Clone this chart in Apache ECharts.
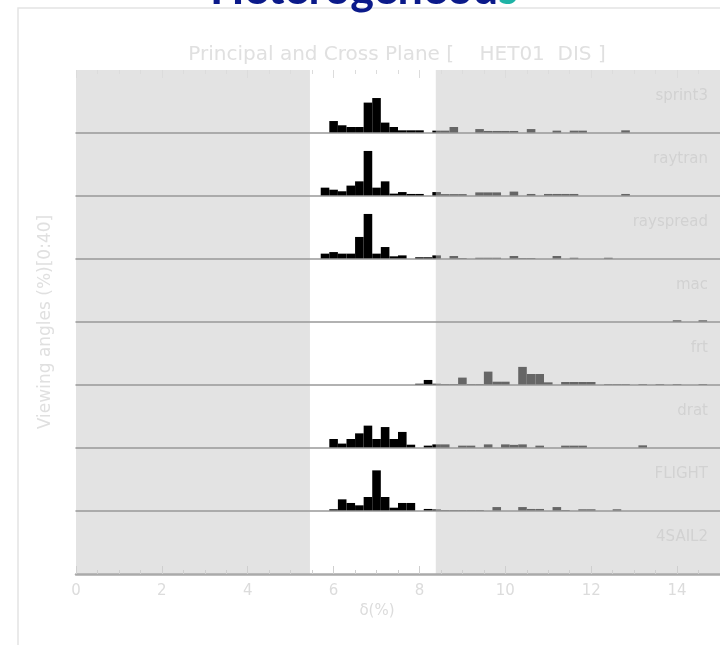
<!DOCTYPE html>
<html>
<head>
<meta charset="utf-8">
<script src="https://cdn.jsdelivr.net/npm/echarts@6/dist/echarts.min.js"></script>
<style>
	html, body { margin: 0; padding: 0; background: #fff; }
	#chart { width: 720px; height: 645px; }
</style>
</head>
<body>
<div id="chart"></div>
<script>
// panel names, top to bottom
const panels = ['sprint3', 'raytran', 'rayspread', 'mac', 'frt', 'drat', 'FLIGHT', '4SAIL2']

// histogram bins per panel: [bin centre δ(%), share of viewing angles (%)]
const sprint3 = [[6.0, 7.6], [6.2, 4.9], [6.4, 3.8], [6.6, 3.8], [6.8, 19.3], [7.0, 22.2], [7.2, 6.6], [7.4, 3.8], [7.6, 1.7], [7.8, 1.7], [8.0, 1.7], [8.4, 1.5], [8.6, 1.5], [8.8, 3.8], [9.4, 2.5], [9.6, 1.3], [9.8, 1.3], [10.0, 1.3], [10.2, 1.3], [10.6, 2.5], [11.2, 1.5], [11.6, 1.5], [11.8, 1.5], [12.8, 1.7]]
const raytran = [[5.8, 5.3], [6.0, 4.0], [6.2, 3.0], [6.4, 6.6], [6.6, 9.3], [6.8, 28.6], [7.0, 5.3], [7.2, 9.3], [7.4, 1.5], [7.6, 2.5], [7.8, 1.3], [8.0, 1.3], [8.4, 2.5], [8.6, 1.2], [8.8, 1.2], [9.0, 1.2], [9.4, 2.3], [9.6, 2.3], [9.8, 2.3], [10.2, 2.8], [10.6, 1.3], [11.0, 1.3], [11.2, 1.3], [11.4, 1.3], [11.6, 1.3], [12.8, 1.3]]
const rayspread = [[5.8, 3.4], [6.0, 4.4], [6.2, 3.4], [6.4, 3.4], [6.6, 14.0], [6.8, 28.6], [7.0, 3.4], [7.2, 7.6], [7.4, 1.7], [7.6, 2.3], [8.0, 1.1], [8.2, 1.1], [8.4, 2.3], [8.8, 1.9], [9.0, 0.6], [9.4, 0.8], [9.6, 0.8], [9.8, 0.8], [10.2, 1.9], [10.4, 0.6], [10.6, 0.6], [11.2, 1.9], [11.6, 0.8], [12.4, 0.8]]
const mac = [[14.0, 1.1], [14.6, 1.1]]
const frt = [[8.0, 0.8], [8.2, 3.2], [8.4, 0.8], [8.6, 0.6], [8.8, 0.6], [9.0, 4.7], [9.2, 0.6], [9.4, 0.6], [9.6, 8.5], [9.8, 2.1], [10.0, 2.1], [10.4, 11.5], [10.6, 7.0], [10.8, 7.0], [11.0, 1.7], [11.4, 1.9], [11.6, 1.9], [11.8, 1.9], [12.0, 1.9], [12.4, 0.6], [12.6, 0.6], [12.8, 0.6], [13.2, 0.6], [13.6, 0.6], [14.0, 0.6], [14.6, 0.6]]
const drat = [[6.0, 5.7], [6.2, 2.8], [6.4, 5.7], [6.6, 9.3], [6.8, 14.2], [7.0, 5.7], [7.2, 13.3], [7.4, 5.7], [7.6, 10.2], [7.8, 2.1], [8.2, 1.5], [8.4, 2.3], [8.6, 2.3], [9.0, 1.5], [9.2, 1.5], [9.6, 2.3], [10.0, 2.3], [10.2, 2.0], [10.4, 2.3], [10.8, 1.5], [11.4, 1.5], [11.6, 1.5], [11.8, 1.5], [13.2, 1.7]]
const flight = [[6.0, 1.1], [6.2, 7.4], [6.4, 5.1], [6.6, 3.6], [6.8, 8.9], [7.0, 25.8], [7.2, 8.9], [7.4, 2.1], [7.6, 5.1], [7.8, 5.1], [8.2, 1.3], [8.4, 1.0], [8.6, 0.6], [8.8, 0.6], [9.0, 0.6], [9.2, 0.6], [9.4, 0.6], [9.8, 2.5], [10.4, 2.5], [10.6, 1.3], [10.8, 1.3], [11.2, 2.5], [11.4, 0.6], [11.8, 1.1], [12.0, 1.1], [12.6, 1.1]]
const sail2 = []
const panelData = [sprint3, raytran, rayspread, mac, frt, drat, flight, sail2]

// shaded (out of range) δ intervals
const shaded = [[0, 5.45], [8.38, 15]]

const binWidth = 0.2
const top0 = 70
const panelH = 63
const plotLeft = 76
const faint = '#dcdcdc'

function renderBar(params, api) {
	const x = api.value(0)
	const h = api.value(1)
	const p0 = api.coord([x - binWidth / 2, 0])
	const p1 = api.coord([x + binWidth / 2, h])
	return {
		type: 'rect',
		shape: { x: p0[0], y: p1[1], width: p1[0] - p0[0], height: p0[1] - p1[1] },
		style: { fill: '#000' }
	}
}

const grid = []
const xAxis = []
const yAxis = []
const series = []
const graphic = []

panels.forEach((name, i) => {
	const last = i === panels.length - 1
	grid.push({ left: plotLeft, right: 0, top: top0 + i * panelH, height: panelH })
	xAxis.push({
		gridIndex: i,
		type: 'value',
		min: 0,
		max: 15,
		interval: 2,
		z: 6,
		axisLine: { lineStyle: { color: last ? '#aaa' : '#999', width: last ? 2.5 : 1.5 } },
		axisTick: { show: last, inside: true, length: 8, lineStyle: { color: '#cfcfcf' } },
		minorTick: { show: last, splitNumber: 4, length: 4, lineStyle: { color: '#cfcfcf' } },
		axisLabel: { show: last, showMaxLabel: false, color: faint, fontSize: 15, margin: 10, fontFamily: 'DejaVu Sans' },
		splitLine: { show: false },
		name: last ? 'δ(%)' : '',
		nameLocation: 'middle',
		nameGap: 30,
		nameTextStyle: { color: faint, fontSize: 15, padding: [0, 42, 0, 0], fontFamily: 'DejaVu Sans' }
	})
	yAxis.push({ gridIndex: i, type: 'value', min: 0, max: 40, show: false })
	series.push({
		type: 'custom',
		xAxisIndex: i,
		yAxisIndex: i,
		z: 1,
		renderItem: renderBar,
		data: panelData[i]
	})
	// translucent grey veil over the out-of-range δ intervals (darkens bars beneath)
	series.push({
		type: 'line',
		xAxisIndex: i,
		yAxisIndex: i,
		z: 4,
		data: [],
		silent: true,
		markArea: {
			silent: true,
			z: 4,
			itemStyle: { color: 'rgba(200,200,200,0.51)' },
			data: shaded.map(s => [{ xAxis: s[0] }, { xAxis: s[1] }])
		}
	})
	graphic.push({
		type: 'text',
		right: 12,
		top: top0 + i * panelH + 19,
		z: 10,
		style: { text: name, fill: '#d2d2d2', fontSize: 15, fontFamily: 'DejaVu Sans' }
	})
})

// ticks along the top of the first panel
xAxis.push({
	gridIndex: 0,
	type: 'value',
	position: 'top',
	min: 0,
	max: 15,
	interval: 2,
	z: 6,
	axisLine: { show: false },
	axisTick: { show: true, inside: true, length: 8, lineStyle: { color: '#dcdcdc' } },
	minorTick: { show: true, splitNumber: 4, length: 4, lineStyle: { color: '#dcdcdc' } },
	axisLabel: { show: false },
	splitLine: { show: false }
})

graphic.push(
	{
		type: 'polyline',
		z: 0,
		shape: { points: [[18, 645], [18, 8], [720, 8]] },
		style: { stroke: '#e4e4e4', lineWidth: 1.5, fill: null }
	},
	{
		type: 'text',
		x: 364,
		y: -11,
		z: 10,
		style: {
			text: '{a|Heterogeneou}{b|s}',
			align: 'center',
			verticalAlign: 'middle',
			rich: {
				a: { fill: '#0b1a8a', fontSize: 45, fontWeight: 'bold', fontFamily: 'Lato' },
				b: { fill: '#1fb3a6', fontSize: 45, fontWeight: 'bold', fontFamily: 'Lato' }
			}
		}
	},
	{
		type: 'text',
		x: 397,
		y: 55,
		z: 10,
		style: {
			text: 'Principal and Cross Plane [    HET01  DIS ]',
			align: 'center',
			verticalAlign: 'middle',
			fill: '#e0e0e0',
			fontSize: 20,
			fontFamily: 'DejaVu Sans'
		}
	},
	{
		type: 'text',
		x: 46,
		y: 322,
		rotation: Math.PI / 2,
		z: 10,
		style: {
			text: 'Viewing angles (%)[0:40]',
			align: 'center',
			verticalAlign: 'middle',
			fill: '#e0e0e0',
			fontSize: 17,
			fontFamily: 'DejaVu Sans'
		}
	}
)

const chart = echarts.init(document.getElementById('chart'))
chart.setOption({
	animation: false,
	grid,
	xAxis,
	yAxis,
	series,
	graphic
})
</script>
</body>
</html>
